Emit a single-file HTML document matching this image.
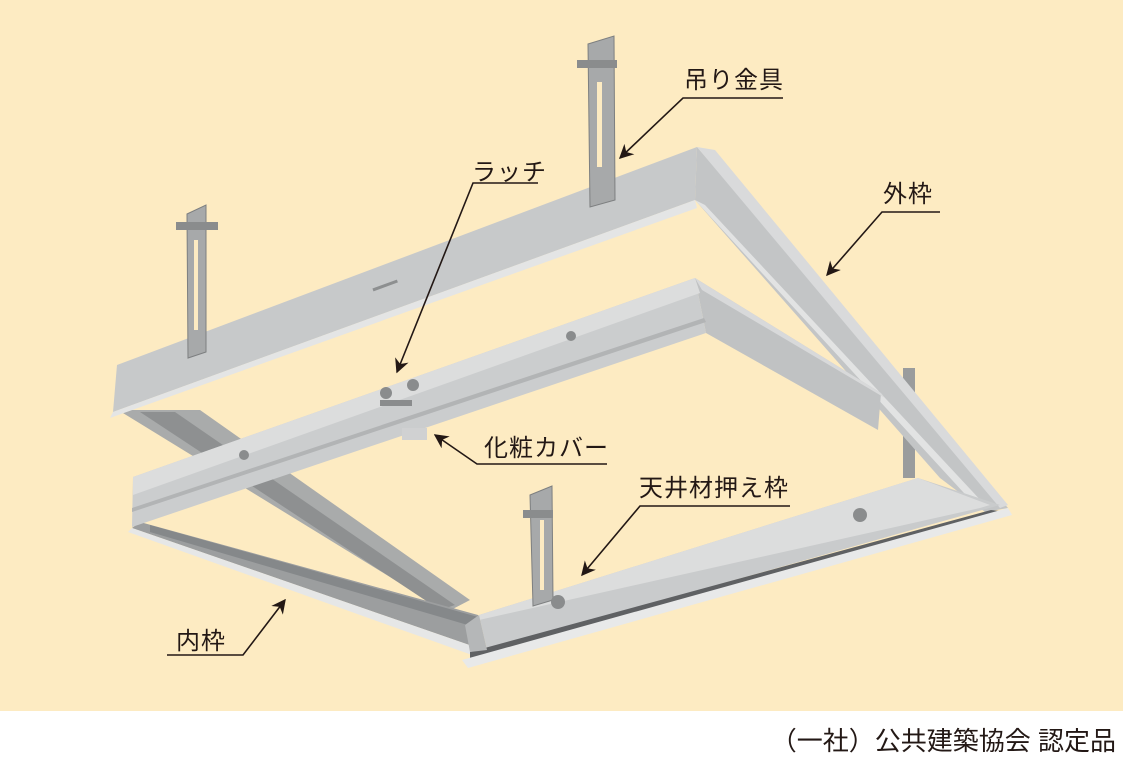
<!DOCTYPE html>
<html><head><meta charset="utf-8"><style>
html,body{margin:0;padding:0;background:#fff}
svg{display:block}
text{font-family:"Liberation Sans","Noto Sans CJK JP",sans-serif;fill:#231815}
</style></head><body>
<svg width="1123" height="764" viewBox="0 0 1123 764" xmlns="http://www.w3.org/2000/svg">
<defs>
<marker id="ah" viewBox="0 0 10 10" refX="9" refY="5" markerWidth="9" markerHeight="9" orient="auto-start-reverse"><path d="M0,0 L10,5 L0,10 L3,5 z" fill="#231815"/></marker>
</defs>
<rect x="0" y="0" width="1123" height="711" fill="#fdebc2"/>
<rect x="0" y="711" width="1123" height="53" fill="#fff"/>

<!-- outer left bar (dark interior) -->
<polygon points="118,410 200,410 470,600 447,612" fill="#a9abab"/>
<polygon points="140,412 175,412 455,605 440,610" fill="#8e9091"/>
<!-- inner lower-left bar -->
<polygon points="140,522 478,615 478,648 132,528" fill="#9c9e9f"/>
<polygon points="150,525 478,617 478,628 150,532" fill="#85888a"/>
<polygon points="132,528 478,648 472,655 128,532" fill="#e6e7e7"/>

<!-- hanger right small -->
<rect x="903" y="368" width="12" height="110" fill="#9a9c9d"/>
<!-- outer right bar -->
<polygon points="697,147 1008,508 985,512 940,478 695,200" fill="#c3c5c6"/>
<polygon points="697,147 715,150 1008,505 1000,508" fill="#d9dadb"/>
<polygon points="695,200 705,205 985,505 975,505" fill="#e2e3e3"/>
<!-- outer bottom bar / inner bottom right bar -->
<polygon points="918,478 1000,505 487,650 479,615" fill="#c9cbcc"/>
<polygon points="918,478 990,505 980,508 479,620 479,615" fill="#dcdddd"/>
<polygon points="991,510 1008,512 470,665 470,652" fill="#5f6163"/>
<polygon points="1008,508 1012,515 468,668 462,660" fill="#e8e9e9"/>
<polygon points="479,615 487,650 470,652 465,625" fill="#b5b7b8"/>

<!-- outer top bar -->
<polygon points="117,365 697,147 695,200 113,412" fill="#c7c9ca"/>
<polygon points="113,412 695,200 697,208 110,418" fill="#e4e5e5"/>
<rect x="372" y="284" width="26" height="3" fill="#8d8f90" transform="rotate(-20 385 285)"/>

<!-- inner right bar -->
<polygon points="695,278 881,393 878,430 706,333" fill="#c0c2c3"/>
<polygon points="695,278 881,393 885,398 702,290" fill="#d8d9da"/>
<!-- inner top bar -->
<polygon points="133,477 695,278 706,333 132,527" fill="#cbcdce"/>
<polygon points="133,477 695,278 700,293 133,495" fill="#dcdddd"/>
<polygon points="132,508 704,318 706,322 132,512" fill="#b2b4b5"/>

<!-- hangers -->
<g fill="#a7a9aa" stroke="#7d7f80" stroke-width="1">
<polygon points="588,44 614,36 615,200 590,207"/>
<polygon points="187,214 206,205 206,352 188,358"/>
<polygon points="530,495 552,486 553,600 533,606"/>
</g>
<g fill="#fdebc2"><rect x="597" y="82" width="5" height="85"/><rect x="194" y="240" width="4" height="90"/><rect x="540" y="520" width="4" height="70"/></g>
<g fill="#8a8c8d">
<rect x="577" y="60" width="40" height="8"/><rect x="176" y="222" width="42" height="8"/><rect x="523" y="510" width="30" height="8"/>
<circle cx="386" cy="393" r="6"/><circle cx="413" cy="385" r="6"/><rect x="380" y="400" width="32" height="6"/>
<circle cx="244" cy="455" r="5"/><circle cx="571" cy="336" r="5"/><circle cx="558" cy="602" r="7"/><circle cx="860" cy="515" r="7"/>
</g>
<rect x="402" y="428" width="25" height="12" fill="#d0d1d2"/>

<!-- labels -->
<g font-size="24" letter-spacing="1">
<text x="684" y="88">吊り金具</text>
<text x="472" y="180">ラッチ</text>
<text x="883" y="202">外枠</text>
<text x="484" y="456">化粧カバー</text>
<text x="639" y="496">天井材押え枠</text>
<text x="176" y="649">内枠</text>
</g>
<g stroke="#231815" stroke-width="1.6" fill="none">
<polyline points="783,98 683,98 620,158" marker-end="url(#ah)"/>
<polyline points="538,183 473,183 397,372" marker-end="url(#ah)"/>
<polyline points="940,212 882,212 827,275" marker-end="url(#ah)"/>
<polyline points="607,464 477,464 435,435" marker-end="url(#ah)"/>
<polyline points="790,506 640,506 582,575" marker-end="url(#ah)"/>
<polyline points="167,655 243,655 285,600" marker-end="url(#ah)"/>
</g>
<text x="1116" y="750" font-size="26" text-anchor="end">（一社）公共建築協会 認定品</text>
</svg>
</body></html>
